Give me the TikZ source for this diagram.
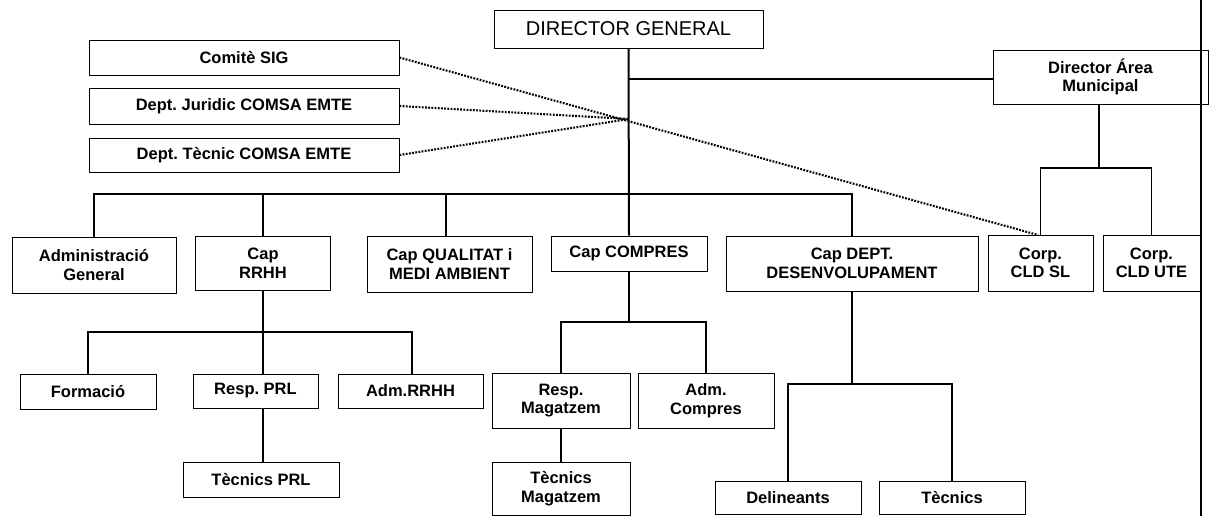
\documentclass[tikz,border=0pt]{standalone}
\usepackage{fontspec}
\setmainfont{Liberation Sans}
\frenchspacing
\begin{document}
\begin{tikzpicture}[x=1pt,y=-1pt,
  box/.style={draw,line width=0.9pt,rectangle,inner sep=0pt,align=center,
    font=\bfseries\fontsize{16.5}{18.5}\selectfont},
  conn/.style={line width=1.4pt},
  dots/.style={line width=2.1pt,dash pattern=on 1.8pt off 1.4pt}]
\useasboundingbox[fill=white] (0,0) rectangle (1210,516);
% top level
\node[box,minimum width=269,minimum height=38,font=\fontsize{20}{22}\selectfont] (dg) at (628.5,29) {DIRECTOR GENERAL};
\node[box,minimum width=310,minimum height=35] (sig) at (244,57.5) {Comitè SIG};
\node[box,minimum width=310,minimum height=36] (jur) at (244,106) {Dept. Juridic COMSA EMTE};
\node[box,minimum width=310,minimum height=34] (tec) at (244,155) {Dept. Tècnic COMSA EMTE};
\node[box,minimum width=215,minimum height=54] (dam) at (1100.5,77) {Director Área\\Municipal};
% second row
\node[box,minimum width=164,minimum height=56] (adm) at (94,265) {Administració\\General};
\node[box,minimum width=135,minimum height=54] (rrhh) at (263,263) {Cap\\RRHH};
\node[box,minimum width=165,minimum height=56] (qual) at (449.5,264) {Cap QUALITAT i\\MEDI AMBIENT};
\node[box,minimum width=156,minimum height=35] (comp) at (629,253.5) {Cap COMPRES};
\node[box,minimum width=252,minimum height=55] (desv) at (852,263.5) {Cap DEPT.\\DESENVOLUPAMENT};
\node[box,minimum width=105,minimum height=56] (sl) at (1040.5,263) {Corp.\\CLD SL};
\node[box,minimum width=97,minimum height=56] (ute) at (1151.5,263) {Corp.\\CLD UTE};
% third row
\node[box,minimum width=136,minimum height=35] (form) at (88,391.5) {Formació};
\node[box,minimum width=125,minimum height=34] (prl) at (255.5,391) {Resp. PRL};
\node[box,minimum width=145,minimum height=34] (adrh) at (410.5,391) {Adm.RRHH};
\node[box,minimum width=156,minimum height=35] (tprl) at (261,479.5) {Tècnics PRL};
\node[box,minimum width=138,minimum height=55] (rmag) at (561,400.5) {Resp.\\Magatzem};
\node[box,minimum width=136,minimum height=55] (acomp) at (706,400.5) {Adm.\\Compres};
\node[box,minimum width=138,minimum height=53] (tmag) at (561,488.5) {Tècnics\\Magatzem};
\node[box,minimum width=146,minimum height=33] (del) at (788,497.5) {Delineants};
\node[box,minimum width=146,minimum height=33] (tecn) at (952,497.5) {Tècnics};
% connectors
\coordinate (cross) at (629,119);
\draw[conn,line width=2pt] (dg.south) -- (comp.north);
\draw[conn] (629,79) -- (dam.west |- 0,79);
\draw[conn] (adm.north) |- (desv.north |- 0,194) -- (desv.north);
\draw[conn] (rrhh.north |- 0,194) -- (rrhh.north);
\draw[conn] (446,194) -- (446,236);
% director area municipal
\draw[conn] (1099,104) -- (1099,168);
\draw[conn] (sl.north) |- (ute.north |- 0,168) -- (ute.north);
% RRHH
\draw[conn] (rrhh.south) -- (263,332);
\draw[conn] (form.north) |- (412,332) -- (412,374);
\draw[conn] (263,332) -- (263,374);
\draw[conn] (263,408) -- (263,462);
% compres
\draw[conn] (comp.south) -- (629,322);
\draw[conn] (rmag.north) |- (acomp.north |- 0,322) -- (acomp.north);
\draw[conn] (rmag.south) -- (tmag.north);
% desenvolupament
\draw[conn] (desv.south) -- (852,384);
\draw[conn] (del.north) |- (tecn.north |- 0,384) -- (tecn.north);
% dotted relations
\draw[dots] (sig.east) -- (1038,235);
\draw[dots] (jur.east) -- (cross);
\draw[dots] (tec.east) -- (cross);
% page edge line
\draw[line width=1.6pt] (1201,0) -- (1201,516);
\end{tikzpicture}
\end{document}
